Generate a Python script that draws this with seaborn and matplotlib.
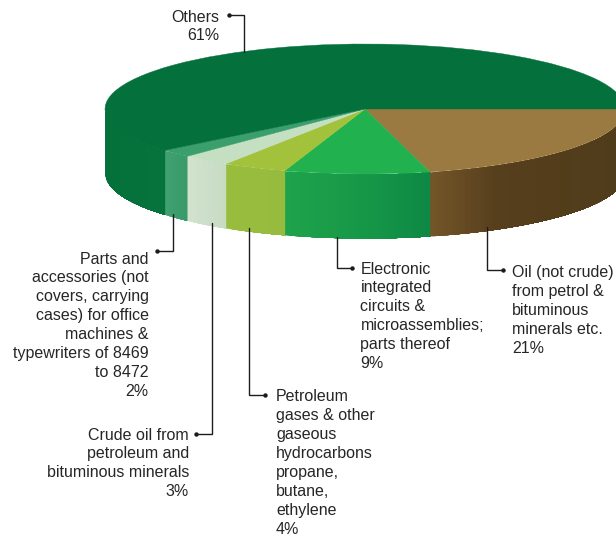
import numpy as np
import matplotlib
matplotlib.use("Agg")
import matplotlib.pyplot as plt
import seaborn as sns

# Data
categories = ["Oil (not crude)", "Electronic", "Petroleum gases", "Crude oil", "Parts", "Others"]
shares = [21, 9, 4, 3, 2, 61]
label_texts = [
    "Oil (not crude)\nfrom petrol &\nbituminous\nminerals etc.\n21%",
    "Electronic\nintegrated\ncircuits &\nmicroassemblies;\nparts thereof\n9%",
    "Petroleum\ngases & other\ngaseous\nhydrocarbons\npropane,\nbutane,\nethylene\n4%",
    "Crude oil from\npetroleum and\nbituminous minerals\n3%",
    "Parts and\naccessories (not\ncovers, carrying\ncases) for office\nmachines &\ntypewriters of 8469\nto 8472\n2%",
    "Others\n61%",
]
top_colors = ["#9a7a40", "#22b14f", "#a3c23b", "#c4dfc2", "#3a9f6c", "#04703b"]
side_colors = [
    ["#735528", "#573f1d", "#533d1b", "#513d1c", "#4f3c1b", "#4c391b"],
    ["#1ea34b", "#1a9c49", "#149447", "#0e8845"],
    ["#98bd3d", "#97bb3e"],
    ["#d2e2cd", "#c8dcc4"],
    ["#3fa170", "#3a9b6a"],
    ["#04703b", "#05733b"],
]

sns.set_theme(style="white")
plt.rcParams["font.family"] = ["Liberation Sans", "DejaVu Sans"]

W, H = 616, 537
CX, CY, RX, RY, DEPTH = 365, 109, 260, 65, 64

fig = plt.figure(figsize=(W / 100, H / 100), dpi=100, facecolor="white")
pie_ax = fig.add_axes([(CX - RX) / W, (H - CY - RY - DEPTH) / H,
                       2 * RX / W, (2 * RY + DEPTH) / H])
pie_ax.set_axis_off()

wedges, _ = pie_ax.pie(shares, colors=top_colors, startangle=0, counterclock=False,
                       radius=1, center=(0, 0), frame=False,
                       wedgeprops={"linewidth": 0.3})
for w, c in zip(wedges, top_colors):
    w.set_edgecolor(c)
    w.set_zorder(50)
pie_ax.set_aspect("auto")
pie_ax.set_xlim(-1, 1)
pie_ax.set_ylim(-1 - DEPTH / RY, 1)

# Extruded rim, drawn for the visible lower half of the ellipse
d = DEPTH / RY
cum = np.cumsum([0] + shares) * 3.6
order = 2.0
for i in reversed(range(len(shares))):
    stops = side_colors[i]
    a0 = -180.0 if -cum[i + 1] < -180 else -cum[i + 1]
    a1 = -cum[i]
    n = max(int((a1 - a0) * 2), 2)
    pal = sns.blend_palette(stops, n)
    edges = np.linspace(a0, a1, n + 1)
    # painter's order, each strip runs on to the slice end so no seams show
    for j in range(n):
        t = np.radians(np.linspace(edges[j], a1, 60))
        pie_ax.fill_between(np.cos(t), np.sin(t), np.sin(t) - d, color=pal[j],
                            linewidth=0, zorder=order)
        order += 0.001

# Annotation overlay in pixel coordinates
ax = fig.add_axes([0, 0, 1, 1], facecolor="none")
ax.set_xlim(0, W)
ax.set_ylim(H, 0)
ax.set_axis_off()

INK = "#1c1c1c"
FS = 11.5
LS = 1.33
# text anchor x, first-line top y, alignment, leader path
layout = [
    (512, 265, "left", [(487, 227), (487, 270), (503, 270)]),
    (360.5, 261.5, "left", [(337, 237), (337, 267.5), (352, 267.5)]),
    (276, 389, "left", [(249, 228), (249, 395), (265, 395)]),
    (189, 427.5, "right", [(212, 223), (212, 434), (196, 434)]),
    (148.5, 251.5, "right", [(173, 214), (173, 251), (157, 251)]),
    (219.5, 9.5, "right", [(244, 52), (244, 15), (229, 15)]),
]
for txt, (tx, ty, ha, path) in zip(label_texts, layout):
    ax.text(tx, ty, txt, ha=ha, va="top", multialignment=ha, fontsize=FS,
            linespacing=LS, color="#262626")
    xs, ys = zip(*path)
    ax.plot(xs, ys, color=INK, lw=1.0, solid_joinstyle="miter")
    ax.plot(xs[-1], ys[-1], "o", color=INK, ms=3.2, mew=0)

fig.savefig("out.png", dpi=100, facecolor="white")
